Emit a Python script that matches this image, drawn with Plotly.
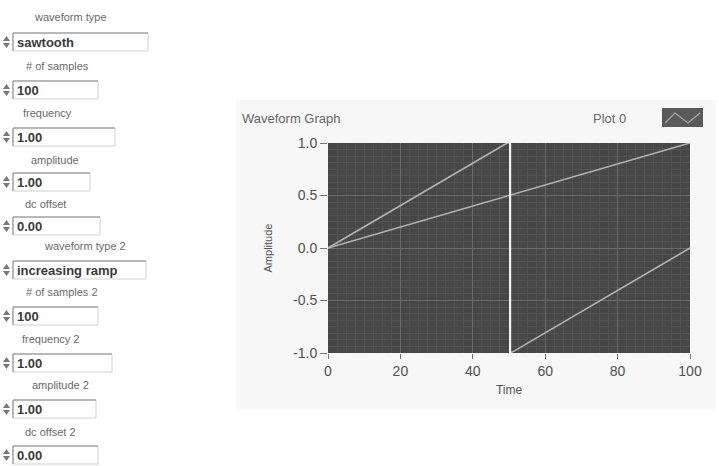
import plotly.graph_objects as go

# ---------------- data ----------------
saw_x = [0, 49.5, 50.3, 50.3, 51.5, 100]
saw_y = [0.0, 1.0, 1.0, -1.0, -0.98, 0.0]
ramp_x = [0, 100]
ramp_y = [0.0, 1.0]
drop_x = [50.3, 50.3]
drop_y = [1.0, -1.0]

x_ticks = [0, 20, 40, 60, 80, 100]
y_ticks = [-1.0, -0.5, 0.0, 0.5, 1.0]
y_tick_text = ["-1.0", "-0.5", "0.0", "0.5", "1.0"]

control_labels = ["waveform type", "# of samples", "frequency", "amplitude", "dc offset",
                  "waveform type 2", "# of samples 2", "frequency 2", "amplitude 2", "dc offset 2"]
control_values = ["sawtooth", "100", "1.00", "1.00", "0.00",
                  "increasing ramp", "100", "1.00", "1.00", "0.00"]

W, H = 719, 466


def px(x):
    return x / W


def py(y):
    return 1 - y / H


fig = go.Figure()

fig.add_trace(go.Scatter(x=saw_x, y=saw_y, mode="lines",
                         line=dict(color="#b4b4b4", width=1.6), showlegend=False))
fig.add_trace(go.Scatter(x=ramp_x, y=ramp_y, mode="lines",
                         line=dict(color="#b4b4b4", width=1.6), showlegend=False))
fig.add_trace(go.Scatter(x=drop_x, y=drop_y, mode="lines",
                         line=dict(color="#f2f2f2", width=2.2), showlegend=False))

font_family = "Liberation Sans, Arial, sans-serif"

fig.update_layout(
    width=W, height=H,
    margin=dict(l=0, r=0, t=0, b=0),
    paper_bgcolor="white",
    plot_bgcolor="#474747",
    font=dict(family=font_family, color="#555555"),
    showlegend=False,
    xaxis=dict(
        domain=[px(328), px(690)], range=[0, 100],
        tickvals=x_ticks, ticks="outside", ticklen=5, tickcolor="#777777",
        tickfont=dict(size=14, color="#505050"),
        showgrid=True, gridcolor="#6c6c6c", gridwidth=1,
        minor=dict(dtick=2.5, showgrid=True, gridcolor="#525252", gridwidth=1),
        zeroline=False, showline=False, automargin=False,
        title=dict(text="Time", font=dict(size=12, color="#555555"), standoff=7),
    ),
    yaxis=dict(
        domain=[py(353), py(143)], range=[-1, 1],
        tickvals=y_ticks, ticktext=y_tick_text, ticks="outside", ticklen=7, tickcolor="#777777",
        tickfont=dict(size=14, color="#505050"),
        showgrid=True, gridcolor="#6c6c6c", gridwidth=1,
        minor=dict(dtick=0.0625, showgrid=True, gridcolor="#525252", gridwidth=1),
        zeroline=False, showline=False, automargin=False,
        title=dict(text="Amplitude", font=dict(size=11, color="#555555"), standoff=18),
    ),
)

shapes = []
annotations = []

# faint panel behind graph
shapes.append(dict(type="rect", xref="paper", yref="paper", layer="below",
                   x0=px(236), x1=px(716), y0=py(409), y1=py(100),
                   fillcolor="#f7f7f7", line=dict(width=0)))
# plot background (drawn above panel, below gridlines)
shapes.append(dict(type="rect", xref="x domain", yref="y domain", layer="below",
                   x0=0, x1=1, y0=0, y1=1,
                   fillcolor="#474747", line=dict(width=0)))

# graph title and legend
annotations.append(dict(text="Waveform Graph", xref="paper", yref="paper",
                        x=px(240), y=py(118), xanchor="left", yanchor="middle",
                        showarrow=False, font=dict(size=13, color="#666666")))
annotations.append(dict(text="Plot 0", xref="paper", yref="paper",
                        x=px(628), y=py(118), xanchor="right", yanchor="middle",
                        showarrow=False, font=dict(size=13, color="#666666")))
shapes.append(dict(type="rect", xref="paper", yref="paper",
                   x0=px(662), x1=px(703), y0=py(127), y1=py(108),
                   fillcolor="#5a5a5a", line=dict(width=0)))
zig = [(665, 123), (675, 113), (688, 123), (700, 113)]
path = "M " + " L ".join(f"{px(a):.5f},{py(b):.5f}" for a, b in zig)
shapes.append(dict(type="path", xref="paper", yref="paper", path=path,
                   line=dict(color="#a8a8a8", width=1.3)))

# front panel controls
label_y = [17, 66, 113, 160, 204, 246, 292, 339, 385, 432]
label_x = [70, 58, 47, 55, 45, 85, 62, 50, 60, 50]
value_y = [42, 90, 137, 182, 226, 270, 316, 363, 409, 455]
box_right = [148, 98, 115, 90, 100, 146, 98, 112, 96, 98]

for i, (lab, val) in enumerate(zip(control_labels, control_values)):
    annotations.append(dict(text=lab, xref="paper", yref="paper",
                            x=px(label_x[i]), y=py(label_y[i]), xanchor="center", yanchor="middle",
                            showarrow=False, font=dict(size=11, color="#6a6a6a")))
    vy = value_y[i]
    # box
    shapes.append(dict(type="rect", xref="paper", yref="paper",
                       x0=px(13), x1=px(box_right[i]), y0=py(vy + 9), y1=py(vy - 9),
                       fillcolor="white", line=dict(color="#d0d0d0", width=1)))
    shapes.append(dict(type="line", xref="paper", yref="paper",
                       x0=px(13), x1=px(box_right[i]), y0=py(vy - 9), y1=py(vy - 9),
                       line=dict(color="#8a8a8a", width=1)))
    shapes.append(dict(type="line", xref="paper", yref="paper",
                       x0=px(13), x1=px(13), y0=py(vy + 9), y1=py(vy - 9),
                       line=dict(color="#8a8a8a", width=1)))
    # spinner arrows
    up = f"M {px(3):.5f},{py(vy - 1):.5f} L {px(10):.5f},{py(vy - 1):.5f} L {px(6.5):.5f},{py(vy - 6):.5f} Z"
    dn = f"M {px(3):.5f},{py(vy + 1):.5f} L {px(10):.5f},{py(vy + 1):.5f} L {px(6.5):.5f},{py(vy + 6):.5f} Z"
    shapes.append(dict(type="path", xref="paper", yref="paper", path=up,
                       fillcolor="#777777", line=dict(width=0)))
    shapes.append(dict(type="path", xref="paper", yref="paper", path=dn,
                       fillcolor="#777777", line=dict(width=0)))
    annotations.append(dict(text=f"<b>{val}</b>", xref="paper", yref="paper",
                            x=px(15), y=py(vy), xanchor="left", yanchor="middle",
                            showarrow=False, font=dict(size=13, color="#3a3a3a")))

fig.update_layout(shapes=shapes, annotations=annotations)

fig.write_html("out.html", config={"displayModeBar": False},
               post_script="document.body.style.margin='0';document.body.style.overflow='hidden';")
